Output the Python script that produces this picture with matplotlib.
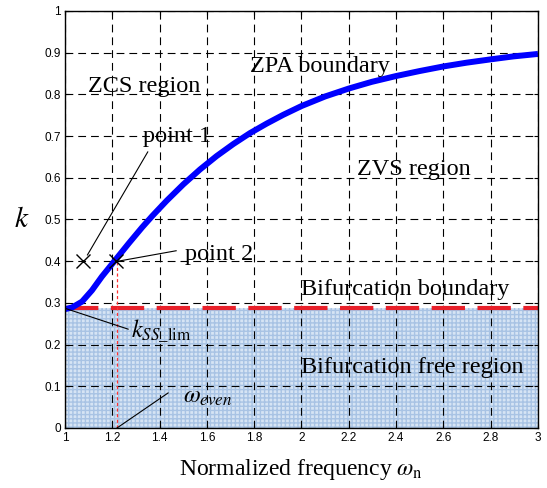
import matplotlib
matplotlib.use('Agg')
import matplotlib.pyplot as plt

# ZPA boundary
omega_n = [1.0, 1.03, 1.072, 1.114, 1.156, 1.213, 1.27, 1.326, 1.37, 1.43,
           1.5, 1.571, 1.641, 1.712, 1.782, 1.853, 1.923, 2.0, 2.1, 2.2,
           2.297, 2.4, 2.5, 2.6, 2.698, 2.8, 2.895, 3.0]
k_zpa = [0.285, 0.289, 0.303, 0.330, 0.363, 0.403, 0.443, 0.481, 0.509, 0.545,
         0.584, 0.620, 0.652, 0.681, 0.707, 0.730, 0.751, 0.772, 0.795, 0.814,
         0.830, 0.844, 0.856, 0.867, 0.876, 0.884, 0.891, 0.897]

k_ss_lim = 0.287
omega_even = 1.22
point1 = (1.078, 0.40)
point2 = (1.215, 0.40)

x_ticks = [1, 1.2, 1.4, 1.6, 1.8, 2, 2.2, 2.4, 2.6, 2.8, 3]
x_tick_labels = ['1', '1.2', '1.4', '1.6', '1.8', '2', '2.2', '2.4', '2.6', '2.8', '3']
y_ticks = [0, 0.1, 0.2, 0.3, 0.4, 0.5, 0.6, 0.7, 0.8, 0.9, 1]
y_tick_labels = ['0', '0.1', '0.2', '0.3', '0.4', '0.5', '0.6', '0.7', '0.8', '0.9', '1']

plt.rcParams['mathtext.fontset'] = 'stix'
serif = 'Liberation Serif'
sans = 'Liberation Sans'

fig = plt.figure(figsize=(5.47, 4.88), dpi=100)
ax = fig.add_axes([0.1188, 0.123, 0.8647, 0.8545])

# bifurcation free region
ax.fill_between([1, 3], 0, k_ss_lim, facecolor='#d6e4f4', edgecolor='#a8c3e4',
                hatch='++++', linewidth=0, zorder=1)

ax.grid(True, color='black', linestyle=(0, (7, 4.5)), linewidth=0.8, zorder=2)

ax.plot([1, 3], [k_ss_lim, k_ss_lim], color='#e8202a', linewidth=3.0,
        linestyle=(0, (8, 3)), zorder=3)
ax.plot([omega_even, omega_even], [0, 0.4], color='#ff3030', linewidth=0.9,
        linestyle=(0, (2.5, 2)), zorder=3)
ax.plot(omega_n, k_zpa, color='#0000ff', linewidth=4.3, solid_capstyle='butt',
        solid_joinstyle='round', zorder=4)

ax.plot(*point1, marker='x', color='black', markersize=10, mew=1.0, zorder=5)
ax.plot(*point2, marker='x', color='black', markersize=10, mew=1.0, zorder=5)

# leader lines
lw = 0.8
ax.plot([1.095, 1.35], [0.415, 0.662], color='black', linewidth=lw, zorder=5)
ax.plot([1.225, 1.47], [0.40, 0.425], color='black', linewidth=lw, zorder=5)
ax.plot([1.0, 1.267], [0.287, 0.237], color='black', linewidth=lw, zorder=5)
ax.plot([1.22, 1.436], [0.0, 0.084], color='black', linewidth=lw, zorder=5)

fs = 17.5
ax.text(1.097, 0.806, 'ZCS region', family=serif, fontsize=fs, zorder=6)
ax.text(1.782, 0.854, 'ZPA boundary', family=serif, fontsize=fs, zorder=6)
ax.text(1.33, 0.686, 'point 1', family=serif, fontsize=fs, zorder=6)
ax.text(2.235, 0.607, 'ZVS region', family=serif, fontsize=fs, zorder=6)
ax.text(1.507, 0.403, 'point 2', family=serif, fontsize=fs, zorder=6)
ax.text(2.0, 0.319, 'Bifurcation boundary', family=serif, fontsize=fs, zorder=6)
ax.text(2.0, 0.132, 'Bifurcation free region', family=serif, fontsize=fs, zorder=6)
ax.text(1.28, 0.216, r'$k_{SS\_\mathrm{lim}}$', fontsize=17.5, zorder=6)
ax.text(1.5, 0.06, r'$\omega_{even}$', fontsize=17.5, zorder=6)

ax.set_xlim(1, 3)
ax.set_ylim(0, 1)
ax.set_xticks(x_ticks)
ax.set_xticklabels(x_tick_labels, family=sans, fontsize=8.5)
ax.set_yticks(y_ticks)
ax.set_yticklabels(y_tick_labels, family=sans, fontsize=8.5)
ax.tick_params(direction='in', length=3, width=0.8, pad=3, top=True, right=True)
for s in ax.spines.values():
    s.set_linewidth(1.0)
    s.set_zorder(7)

ax.set_xlabel(r'Normalized frequency $\omega_\mathrm{n}$', family=serif,
              fontsize=17, labelpad=9)
ax.set_ylabel(r'$k$', fontsize=21, rotation=0, labelpad=16, va='center')

fig.savefig('out.png', dpi=100)
